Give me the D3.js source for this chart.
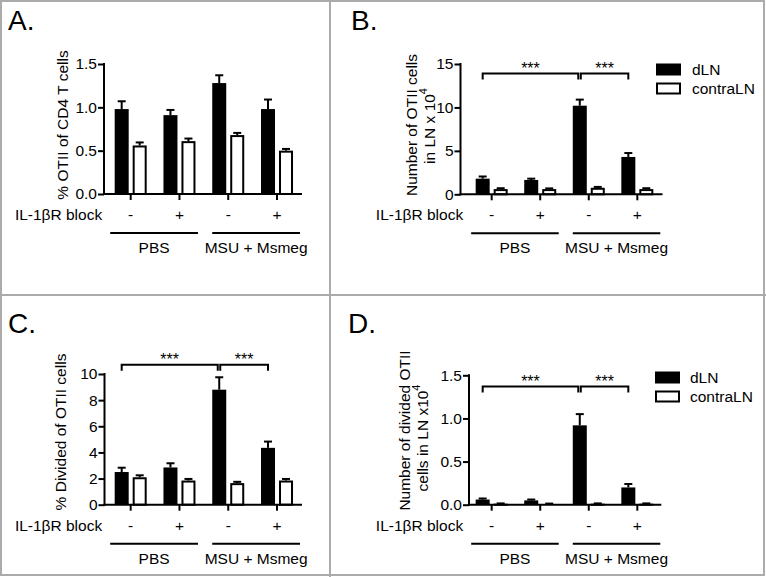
<!DOCTYPE html>
<html><head><meta charset="utf-8">
<script src="https://cdn.jsdelivr.net/npm/d3@7"></script>
<style>
body{margin:0;background:#fff}
svg{display:block}
text{font-family:"Liberation Sans",Arial,Helvetica,sans-serif;fill:#000}
</style>
</head><body><svg id="c" width="766" height="577"></svg>
<script>
// ---------------- data ----------------
const groups = ["g1", "g2", "g3", "g4"];
const blockLabels = ["-", "+", "-", "+"];
const treatments = ["PBS", "MSU + Msmeg"];
const seriesNames = ["dLN", "contraLN"];
const blockTitle = "IL-1\u03B2R block";

const aDLN = [0.98, 0.91, 1.28, 0.98];
const aDLNErr = [0.09, 0.06, 0.09, 0.11];
const aContra = [0.56, 0.61, 0.68, 0.50];
const aContraErr = [0.035, 0.03, 0.025, 0.02];
const aTicks = [0, 0.5, 1.0, 1.5];

const bDLN = [1.8, 1.65, 10.2, 4.3];
const bDLNErr = [0.25, 0.15, 0.7, 0.45];
const bContra = [0.6, 0.6, 0.75, 0.6];
const bContraErr = [0.1, 0.08, 0.1, 0.1];
const bTicks = [0, 5, 10, 15];

const cDLN = [2.5, 2.85, 8.8, 4.35];
const cDLNErr = [0.33, 0.32, 0.95, 0.48];
const cContra = [2.1, 1.85, 1.65, 1.85];
const cContraErr = [0.15, 0.12, 0.1, 0.12];
const cTicks = [0, 2, 4, 6, 8, 10];

const dDLN = [0.06, 0.05, 0.92, 0.2];
const dDLNErr = [0.012, 0.01, 0.13, 0.04];
const dContra = [0.012, 0.01, 0.012, 0.012];
const dContraErr = [0.003, 0.003, 0.003, 0.003];
const dTicks = [0, 0.5, 1.0, 1.5];

const sigPairs = [[0, 2], [2, 3]];
const sigLabel = "***";
const bSigLevel = 13.9;
const cSigLevel = 10.7;
const dSigLevel = 1.37;

// ---------------- layout ----------------
const svg = d3.select("#c");
const FS = 15.5;

// borders / dividers
const frame = svg.append("g").attr("stroke", "#ababab").attr("stroke-width", 2).attr("fill", "none");
frame.append("rect").attr("x", 1).attr("y", 1).attr("width", 763).attr("height", 574);
frame.append("line").attr("x1", 330).attr("x2", 330).attr("y1", 0).attr("y2", 577);
frame.append("line").attr("x1", 0).attr("x2", 766).attr("y1", 295).attr("y2", 295);

const panels = [
  {letter: "A.", lx: 8, ly: 30, axisL: 104, axisR: 302, bandL: 106.3, bandR: 301.4, top: 64, bottom: 194,
   ticks: aTicks, fmt: d3.format(".1f"), dln: aDLN, dlnErr: aDLNErr, con: aContra, conErr: aContraErr,
   ylab: [{x: 62, cy: 125, parts: [["% OTII of CD4 T cells", false]]}], sig: null, legend: null},
  {letter: "B.", lx: 351, ly: 30, axisL: 460.5, axisR: 662.5, bandL: 467.4, bandR: 661.6, top: 64, bottom: 194.3,
   ticks: bTicks, fmt: d3.format("d"), dln: bDLN, dlnErr: bDLNErr, con: bContra, conErr: bContraErr,
   ylab: [{x: 411.3, cy: 125, parts: [["Number of OTII cells", false]]},
          {x: 429.7, cy: 126, parts: [["in LN x 10", false], ["4", true]]}],
   sig: bSigLevel, legend: {x: 656, y: 63.5, tx: 692}},
  {letter: "C.", lx: 8, ly: 333, axisL: 104.5, axisR: 302, bandL: 106.3, bandR: 301.4, top: 374, bottom: 504.7,
   ticks: cTicks, fmt: d3.format("d"), dln: cDLN, dlnErr: cDLNErr, con: cContra, conErr: cContraErr,
   ylab: [{x: 60, cy: 432, parts: [["% Divided of OTII cells", false]]}], sig: cSigLevel, legend: null},
  {letter: "D.", lx: 348, ly: 333, axisL: 469, axisR: 661.3, bandL: 467.4, bandR: 661.6, top: 375.3, bottom: 504.7,
   ticks: dTicks, fmt: d3.format(".1f"), dln: dDLN, dlnErr: dDLNErr, con: dContra, conErr: dContraErr,
   ylab: [{x: 404.7, cy: 430.5, parts: [["Number of divided OTII", false]]},
          {x: 422.3, cy: 438, parts: [["cells in LN x10", false], ["4", true]]}],
   sig: dSigLevel, legend: {x: 655, y: 371.5, tx: 690}}
];

panels.forEach(p => {
  const g = svg.append("g");
  g.append("text").attr("x", p.lx).attr("y", p.ly).attr("font-size", 28).text(p.letter);

  const y = d3.scaleLinear().domain([0, d3.max(p.ticks)]).range([p.bottom, p.top]);
  const x0 = d3.scaleBand().domain(groups).range([p.bandL, p.bandR]).paddingInner(0).paddingOuter(0);
  const x1 = d3.scaleBand().domain(seriesNames).range([-16, 16]).paddingInner(0.222);
  const bw = x1.bandwidth();
  const cx = i => x0(groups[i]) + x0.bandwidth() / 2;

  // y axis
  const ya = g.append("g").attr("transform", `translate(${p.axisL},0)`)
    .call(d3.axisLeft(y).tickValues(p.ticks).tickFormat(p.fmt).tickSize(6).tickSizeOuter(0).tickPadding(1));
  ya.select(".domain").attr("stroke", "#000").attr("stroke-width", 2)
    .attr("d", `M0,${p.bottom + 1}V${p.top - 1}`);
  ya.selectAll(".tick line").attr("stroke", "#000").attr("stroke-width", 2);
  ya.selectAll(".tick text").attr("font-size", FS).attr("font-family", "Liberation Sans, Arial, sans-serif").attr("fill", "#000");

  // bars
  const rows = groups.map((k, i) => ({i, dln: p.dln[i], dlnErr: p.dlnErr[i], con: p.con[i], conErr: p.conErr[i]}));
  // error bars first (drawn above bars later for white ones)
  rows.forEach(r => {
    const c = cx(r.i);
    const xb = c + x1("dLN") + bw / 2;
    const xw = c + x1("contraLN") + bw / 2;
    g.append("rect").attr("x", c + x1("dLN")).attr("width", bw)
      .attr("y", y(r.dln)).attr("height", y(0) - y(r.dln)).attr("fill", "#000");
    g.append("rect").attr("x", c + x1("contraLN") + 1).attr("width", bw - 2)
      .attr("y", y(r.con) + 1).attr("height", Math.max(0, y(0) - y(r.con) - 1))
      .attr("fill", "#fff").attr("stroke", "#000").attr("stroke-width", 2);
    [[xb, r.dln, r.dlnErr], [xw, r.con, r.conErr]].forEach(([xx, v, e]) => {
      g.append("line").attr("x1", xx).attr("x2", xx).attr("y1", y(v)).attr("y2", y(v + e))
        .attr("stroke", "#000").attr("stroke-width", 2);
      g.append("line").attr("x1", xx - 4).attr("x2", xx + 4).attr("y1", y(v + e)).attr("y2", y(v + e))
        .attr("stroke", "#000").attr("stroke-width", 2);
    });
  });

  // x axis
  g.append("line").attr("x1", p.axisL - 1).attr("x2", p.axisR).attr("y1", p.bottom).attr("y2", p.bottom)
    .attr("stroke", "#000").attr("stroke-width", 2);
  groups.forEach((k, i) => {
    g.append("line").attr("x1", cx(i)).attr("x2", cx(i)).attr("y1", p.bottom).attr("y2", p.bottom + 6)
      .attr("stroke", "#000").attr("stroke-width", 2);
    g.append("text").attr("x", cx(i)).attr("y", p.bottom + 20.5).attr("dy", "0.35em")
      .attr("text-anchor", "middle").attr("font-size", FS).text(blockLabels[i]);
  });
  const spans = [[cx(0) - 20.5, cx(1) + 18.5], [cx(2) - 16, cx(3) + 23]];
  spans.forEach((s, j) => {
    g.append("line").attr("x1", s[0]).attr("x2", s[1]).attr("y1", p.bottom + 39).attr("y2", p.bottom + 39)
      .attr("stroke", "#000").attr("stroke-width", 2);
    g.append("text").attr("x", (s[0] + s[1]) / 2).attr("y", p.bottom + 53.5).attr("dy", "0.35em")
      .attr("text-anchor", "middle").attr("font-size", FS).text(treatments[j]);
  });
  g.append("text").attr("x", spans[0][0] - 8).attr("y", p.bottom + 20.5).attr("dy", "0.35em")
    .attr("text-anchor", "end").attr("font-size", FS).text(blockTitle);

  // y labels
  p.ylab.forEach(l => {
    const t = g.append("text").attr("transform", `translate(${l.x},${l.cy}) rotate(-90)`)
      .attr("text-anchor", "middle").attr("dy", "0.36em").attr("font-size", FS);
    l.parts.forEach(([s, sup]) => {
      if (sup) t.append("tspan").attr("font-size", FS * 0.7).attr("dy", "-0.75em").text(s);
      else t.append("tspan").text(s);
    });
  });

  // significance brackets
  if (p.sig !== null) {
    const by = y(p.sig);
    const bx = i => cx(i) + x1("dLN") + bw / 2;
    sigPairs.forEach(([a, b], j) => {
      const xa = bx(a) + (j === 1 ? 1 : 0);
      const xb = bx(b) - (j === 0 ? 1.5 : 0);
      g.append("path").attr("d", `M${xa},${by + 6}V${by}H${xb}V${by + 6}`)
        .attr("fill", "none").attr("stroke", "#000").attr("stroke-width", 2);
      g.append("text").attr("x", (xa + xb) / 2).attr("y", by + 0.5).attr("text-anchor", "middle")
        .attr("font-size", 16).attr("fill", "#333").text(sigLabel);
    });
  }

  // legend
  if (p.legend) {
    const L = p.legend;
    g.append("rect").attr("x", L.x).attr("y", L.y).attr("width", 25).attr("height", 12).attr("fill", "#000");
    g.append("rect").attr("x", L.x + 1).attr("y", L.y + 20).attr("width", 23).attr("height", 10)
      .attr("fill", "#fff").attr("stroke", "#000").attr("stroke-width", 2);
    seriesNames.forEach((s, j) => {
      g.append("text").attr("x", L.tx).attr("y", L.y + 6 + j * 19).attr("dy", "0.36em")
        .attr("font-size", FS).text(s);
    });
  }
});
</script>
</body></html>
